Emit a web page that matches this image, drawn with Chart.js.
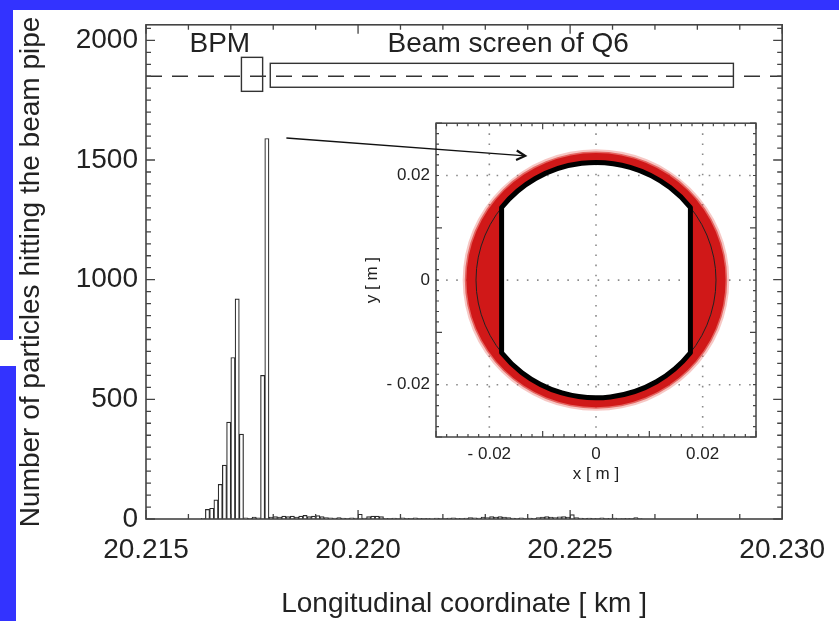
<!DOCTYPE html>
<html>
<head>
<meta charset="utf-8">
<script src="https://cdn.jsdelivr.net/npm/chart.js@4.4.1/dist/chart.umd.min.js"></script>
<style>
  html, body { margin: 0; padding: 0; }
  body { width: 839px; height: 621px; background: #3333ff; position: relative; overflow: hidden; }
  #page { position: absolute; left: 13px; top: 10px; width: 826px; height: 611px; background: #fff; }
  #patch { position: absolute; left: 0; top: 340px; width: 13px; height: 26px; background: #fff; }
  #strip { position: absolute; left: 13px; top: 366px; width: 3px; height: 255px; background: #3333ff; }
  #inset { position: absolute; left: 358px; top: 107px; z-index: 2; }
  #main { position: absolute; left: 0; top: 0; z-index: 3; }
</style>
</head>
<body>
<div id="page"></div>
<div id="patch"></div>
<div id="strip"></div>
<canvas id="inset" width="408" height="385"></canvas>
<canvas id="main" width="839" height="621"></canvas>
<script>
// histogram: hits per 0.1 m bin along the beam line
const binStartKm = 20.2163;
const binWidthKm = 0.0001;
const hitCounts = [
  3, 40, 45, 80, 145, 225, 405, 675, 920, 355,
  5, 3, 8, 5, 600, 1590, 8, 10, 8, 12,
  10, 12, 8, 12, 15, 10, 12, 14, 10, 6,
  5, 4, 6, 4, 3, 5, 4, 20, 4, 10,
  12, 12, 10, 3, 2, 4, 2, 5, 3, 2,
  5, 3, 2, 3, 0, 4, 3, 2, 4, 5,
  3, 2, 4, 6, 5, 4, 8, 6, 10, 8,
  10, 8, 6, 4, 3, 5, 2, 4, 3, 6,
  8, 10, 8, 6, 9, 10, 8, 18, 6, 4,
  3, 4, 3, 2, 5, 2, 3, 4, 1, 2,
  3, 2, 6, 2
];
const xTickValues = [20.215, 20.220, 20.225, 20.230];
const yTickValues = [0, 500, 1000, 1500, 2000];

// element layout annotations (km, counts)
const apertureLevel = 1850;
const bpmBox = { x0: 20.21725, x1: 20.21775, y0: 1787, y1: 1929, label: 'BPM', lx: 20.21674 };
const q6Box = { x0: 20.21793, x1: 20.22885, y0: 1804, y1: 1904, label: 'Beam screen of Q6', lx: 20.22354 };
const labelLevel = 1983;
const arrowFrom = [20.21831, 1592];
const arrowTo = [20.22394, 1517];

// inset: transverse positions of the hits (m)
const insetTickValues = [-0.02, 0, 0.02];
const insetRange = 0.03;
const screenRadius = 0.0225;
const screenFlatX = 0.0177;
const hitRadius = 0.0243;

const font = { family: '"Liberation Sans", Arial, sans-serif', size: 28 };
const smallFont = { family: '"Liberation Sans", Arial, sans-serif', size: 17 };
const ink = '#222';

function inwardTicks(ctx, a, xScale, yScale, xFrom, xTo, xStep, xMajorEvery, yFrom, yTo, yStep, yMajorEvery, minorLen, majorLen) {
  ctx.beginPath();
  const nx = Math.round((xTo - xFrom) / xStep);
  for (let i = 0; i <= nx; i++) {
    const px = xScale.getPixelForValue(xFrom + i * xStep);
    const len = i % xMajorEvery === 0 ? majorLen : minorLen;
    ctx.moveTo(px, a.bottom); ctx.lineTo(px, a.bottom - len);
    ctx.moveTo(px, a.top); ctx.lineTo(px, a.top + len);
  }
  const ny = Math.round((yTo - yFrom) / yStep);
  for (let i = 0; i <= ny; i++) {
    const py = yScale.getPixelForValue(yFrom + i * yStep);
    const len = i % yMajorEvery === 0 ? majorLen : minorLen;
    ctx.moveTo(a.left, py); ctx.lineTo(a.left + len, py);
    ctx.moveTo(a.right, py); ctx.lineTo(a.right - len, py);
  }
  ctx.stroke();
}

const mainDecor = {
  id: 'mainDecor',
  afterDatasetsDraw(chart) {
    const { ctx, chartArea: a, scales: { x, y } } = chart;
    ctx.save();
    ctx.strokeStyle = '#333';
    ctx.lineWidth = 1.4;
    // aperture line
    ctx.setLineDash([16, 10]);
    const ay = y.getPixelForValue(apertureLevel);
    ctx.beginPath(); ctx.moveTo(a.left, ay); ctx.lineTo(a.right, ay); ctx.stroke();
    ctx.setLineDash([]);
    // element boxes + names
    ctx.font = font.size + 'px ' + font.family;
    ctx.fillStyle = ink;
    ctx.textAlign = 'center';
    ctx.textBaseline = 'middle';
    [bpmBox, q6Box].forEach(b => {
      const x0 = x.getPixelForValue(b.x0), x1 = x.getPixelForValue(b.x1);
      const y0 = y.getPixelForValue(b.y0), y1 = y.getPixelForValue(b.y1);
      ctx.strokeRect(x0, y1, x1 - x0, y0 - y1);
      ctx.fillText(b.label, x.getPixelForValue(b.lx), y.getPixelForValue(labelLevel));
    });
    // arrow to the inset
    const fx = x.getPixelForValue(arrowFrom[0]), fy = y.getPixelForValue(arrowFrom[1]);
    const tx = x.getPixelForValue(arrowTo[0]), ty = y.getPixelForValue(arrowTo[1]);
    ctx.strokeStyle = '#111';
    ctx.lineWidth = 1.3;
    ctx.beginPath(); ctx.moveTo(fx, fy); ctx.lineTo(tx, ty); ctx.stroke();
    const ang = Math.atan2(ty - fy, tx - fx);
    ctx.lineWidth = 2.2;
    ctx.beginPath();
    ctx.moveTo(tx - 10 * Math.cos(ang - 0.5), ty - 10 * Math.sin(ang - 0.5));
    ctx.lineTo(tx, ty);
    ctx.lineTo(tx - 10 * Math.cos(ang + 0.5), ty - 10 * Math.sin(ang + 0.5));
    ctx.stroke();
    ctx.restore();
  },
  afterDraw(chart) {
    const { ctx, chartArea: a, scales: { x, y } } = chart;
    ctx.save();
    ctx.strokeStyle = '#444';
    ctx.lineWidth = 1.6;
    ctx.strokeRect(a.left, a.top, a.width, a.height);
    ctx.lineWidth = 1.3;
    inwardTicks(ctx, a, x, y, 20.215, 20.230, 0.001, 5, 0, 2050, 50, 10, 5, 9);
    ctx.restore();
  }
};

const insetDecor = {
  id: 'insetDecor',
  afterDraw(chart) {
    const { ctx, chartArea: a, scales: { x, y } } = chart;
    const cx = x.getPixelForValue(0), cy = y.getPixelForValue(0);
    const rx = v => Math.abs(x.getPixelForValue(v) - cx);
    const ry = v => Math.abs(y.getPixelForValue(v) - cy);
    const al = Math.acos(screenFlatX / screenRadius);
    const sR = rx(screenRadius), sRy = ry(screenRadius);
    const screenPath = () => {
      ctx.moveTo(cx + sR * Math.cos(-Math.PI + al), cy + sRy * Math.sin(-Math.PI + al));
      ctx.ellipse(cx, cy, sR, sRy, 0, -Math.PI + al, -al);
      ctx.ellipse(cx, cy, sR, sRy, 0, al, Math.PI - al);
      ctx.closePath();
    };
    ctx.save();
    ctx.beginPath(); ctx.rect(a.left, a.top, a.width, a.height); ctx.clip();
    // dotted grid
    ctx.strokeStyle = '#8a8a8a';
    ctx.lineWidth = 1.6;
    ctx.setLineDash([1.6, 8.5]);
    ctx.beginPath();
    insetTickValues.forEach(v => {
      const px = x.getPixelForValue(v), py = y.getPixelForValue(v);
      ctx.moveTo(px, a.top); ctx.lineTo(px, a.bottom);
      ctx.moveTo(a.left, py); ctx.lineTo(a.right, py);
    });
    ctx.stroke();
    ctx.setLineDash([]);
    // hits outside the screen
    [[hitRadius + 0.0007, 'rgba(225,70,60,0.3)'], [hitRadius + 0.0003, 'rgba(215,35,30,0.6)'], [hitRadius, '#d01818']].forEach(([r, c]) => {
      ctx.beginPath();
      ctx.moveTo(cx + rx(r), cy);
      ctx.ellipse(cx, cy, rx(r), ry(r), 0, 0, Math.PI * 2);
      screenPath();
      ctx.fillStyle = c;
      ctx.fill('evenodd');
    });
    // pipe circle
    ctx.strokeStyle = '#222';
    ctx.lineWidth = 1;
    ctx.beginPath(); ctx.ellipse(cx, cy, sR, sRy, 0, 0, Math.PI * 2); ctx.stroke();
    // beam screen
    ctx.strokeStyle = '#000';
    ctx.lineWidth = 5;
    ctx.lineJoin = 'round';
    ctx.beginPath(); screenPath(); ctx.stroke();
    ctx.restore();
    ctx.save();
    ctx.strokeStyle = '#444';
    ctx.lineWidth = 1.5;
    ctx.strokeRect(a.left, a.top, a.width, a.height);
    ctx.lineWidth = 1.2;
    inwardTicks(ctx, a, x, y, -0.03, 0.03, 0.002, 10, -0.03, 0.03, 0.002, 10, 3, 6);
    ctx.restore();
  }
};

const fmtInset = v => v === 0 ? '0' : (v < 0 ? '- ' : '') + Math.abs(v).toFixed(2);

new Chart(document.getElementById('inset'), {
  type: 'scatter',
  data: { datasets: [] },
  options: {
    responsive: false,
    animation: false,
    layout: { padding: { top: 10, right: 10, left: 0, bottom: 0 } },
    plugins: { legend: { display: false }, tooltip: { enabled: false } },
    scales: {
      x: {
        type: 'linear', min: -insetRange, max: insetRange,
        afterBuildTicks: s => { s.ticks = insetTickValues.map(v => ({ value: v })); },
        grid: { display: false, drawTicks: false }, border: { display: false },
        ticks: { padding: 7, font: smallFont, color: ink, callback: fmtInset },
        title: { display: true, text: 'x [ m ]', font: smallFont, color: ink, padding: { top: 0, bottom: 7 } },
        afterFit: s => { s.height = 55; }
      },
      y: {
        type: 'linear', min: -insetRange, max: insetRange,
        afterBuildTicks: s => { s.ticks = insetTickValues.map(v => ({ value: v })); },
        grid: { display: false, drawTicks: false }, border: { display: false },
        ticks: { padding: 6, font: smallFont, color: ink, callback: fmtInset },
        title: { display: true, text: 'y [ m ]', font: smallFont, color: ink, padding: { top: 4, bottom: 0 } },
        afterFit: s => { s.width = 78; }
      }
    }
  },
  plugins: [insetDecor]
});

new Chart(document.getElementById('main'), {
  type: 'bar',
  data: {
    datasets: [{
      data: hitCounts.map((c, i) => ({ x: binStartKm + (i + 0.5) * binWidthKm, y: c })),
      backgroundColor: '#fff',
      borderColor: '#2a2a2a',
      borderWidth: 1.2,
      barPercentage: 1,
      categoryPercentage: 1
    }]
  },
  options: {
    responsive: false,
    animation: false,
    layout: { padding: { top: 23, right: 54, left: 0, bottom: 0 } },
    plugins: { legend: { display: false }, tooltip: { enabled: false } },
    scales: {
      x: {
        type: 'linear', min: 20.215, max: 20.230, offset: false,
        afterBuildTicks: s => { s.ticks = xTickValues.map(v => ({ value: v })); },
        grid: { display: false, drawTicks: false }, border: { display: false },
        ticks: { padding: 14, font, color: ink, maxRotation: 0, callback: v => v.toFixed(3) },
        title: { display: true, text: 'Longitudinal coordinate [ km ]', font, color: ink, padding: { top: 0, bottom: 0 } },
        afterFit: s => { s.height = 102; }
      },
      y: {
        type: 'linear', min: 0, max: 2065,
        afterBuildTicks: s => { s.ticks = yTickValues.map(v => ({ value: v })); },
        grid: { display: false, drawTicks: false }, border: { display: false },
        ticks: { padding: 8, font, color: ink, callback: v => String(v) },
        title: { display: true, text: 'Number of particles hitting the beam pipe', font, color: ink, padding: { top: 14, bottom: 0 } },
        afterFit: s => { s.width = 146; }
      }
    }
  },
  plugins: [mainDecor]
});
</script>
</body>
</html>
